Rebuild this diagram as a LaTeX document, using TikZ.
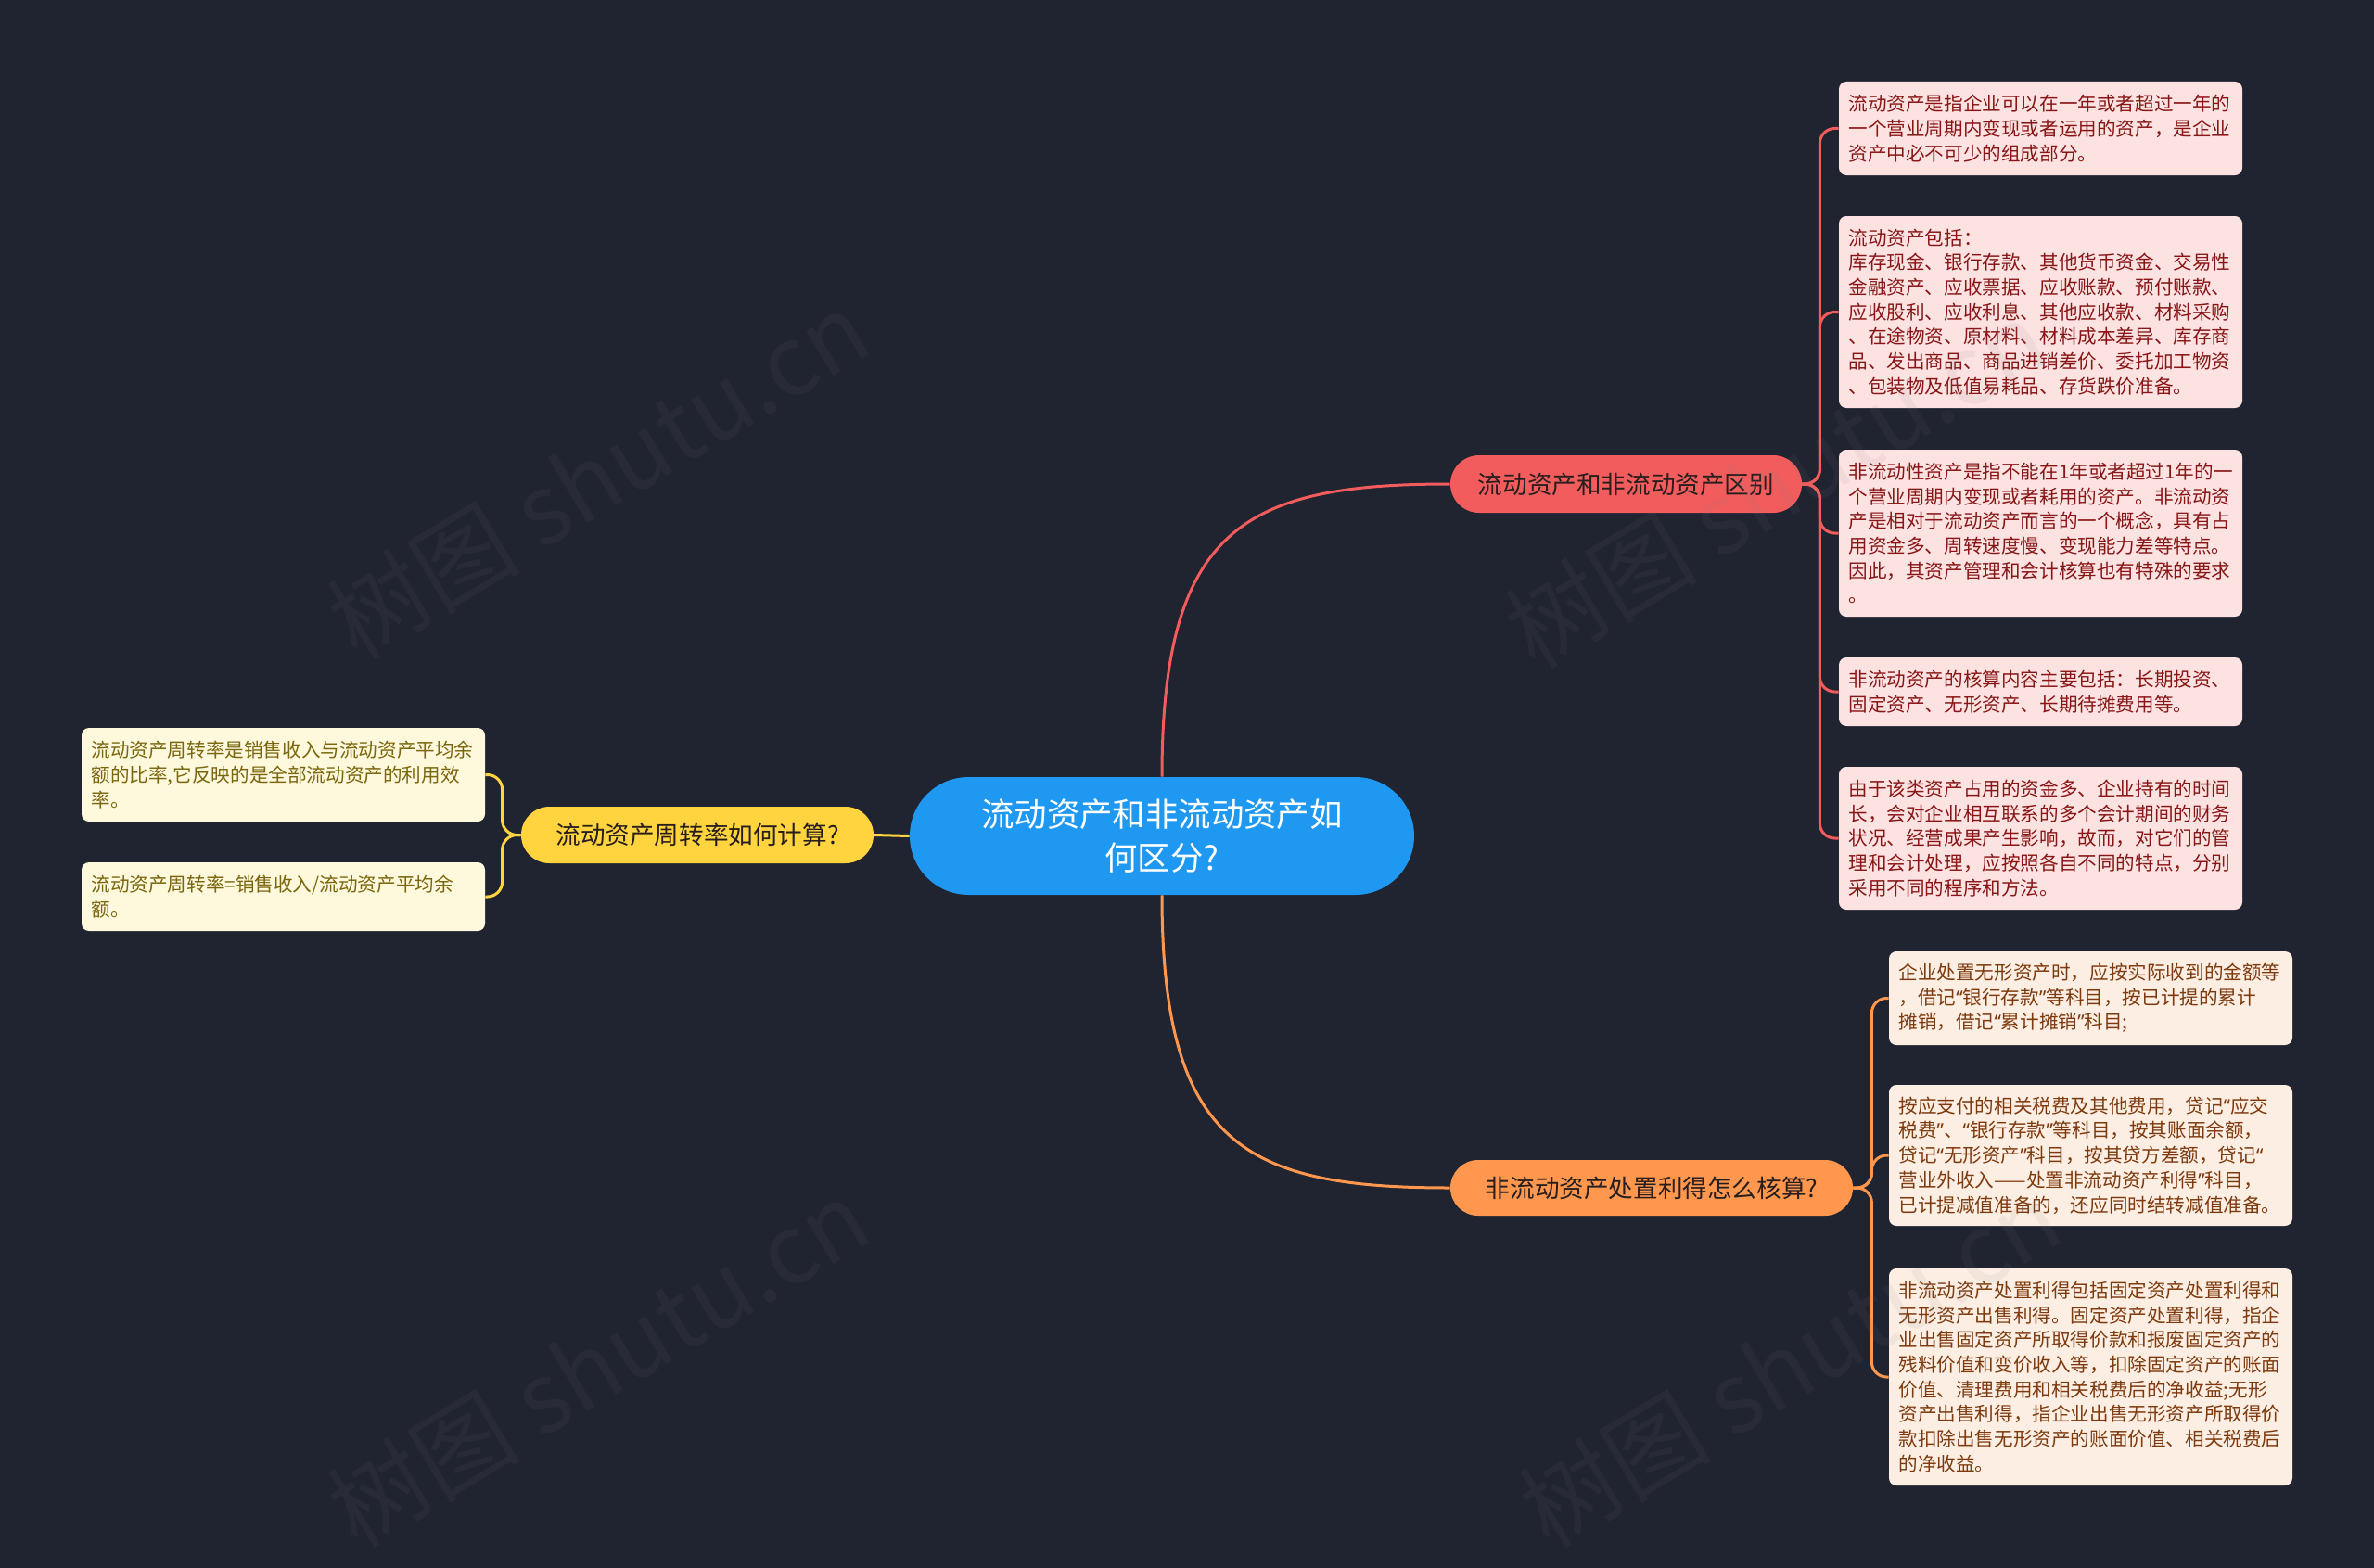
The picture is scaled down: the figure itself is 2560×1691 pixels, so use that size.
\documentclass[tikz,border=0pt]{standalone}
\usepackage{fontspec}
\setmainfont{Noto Sans CJK SC}
\newfontfamily\qfont{Noto Sans}
\newcommand\qo{{\qfont “}}
\newcommand\qc{{\qfont ”}}
\usetikzlibrary{calc}
\definecolor{bgc}{RGB}{32,35,48}
\definecolor{cblue}{RGB}{30,152,240}
\definecolor{cred}{RGB}{242,92,92}
\definecolor{corange}{RGB}{255,152,78}
\definecolor{cyellow}{RGB}{255,212,62}
\definecolor{lredfill}{RGB}{253,226,226}
\definecolor{lredtext}{RGB}{136,22,22}
\definecolor{lorafill}{RGB}{253,238,227}
\definecolor{loratext}{RGB}{125,58,14}
\definecolor{lyelfill}{RGB}{254,248,221}
\definecolor{lyeltext}{RGB}{122,102,12}
\definecolor{darktext}{RGB}{40,30,30}
\newcommand\lfnt{\fontsize{10.3}{13.35}\selectfont}
\newcommand\bfnt{\fontsize{13.3}{16}\selectfont}
\newcommand\cfnt{\fontsize{17.7}{23.5}\selectfont}
\tikzset{
  leafbase/.style={rounded corners=4pt, text width=207pt, inner xsep=5.25pt, inner ysep=3pt, align=left, font=\lfnt},
  leafR/.style={leafbase, fill=lredfill, text=lredtext},
  leafO/.style={leafbase, fill=lorafill, text=loratext},
  leafY/.style={leafbase, fill=lyelfill, text=lyeltext},
  branch/.style={inner sep=0pt, align=center, font=\bfnt, text=darktext},
  conn/.style={line width=1.5pt},
  wmark/.style={rotate=31, font=\fontsize{52}{60}\selectfont, text=gray, opacity=0.09}
}
\begin{document}
\begin{tikzpicture}[x=0.5pt,y=-0.5pt]
\useasboundingbox (0,0) rectangle (2560,1691);
\fill[bgc] (0,0) rectangle (2560,1691);

% central
\node[fill=cblue, text=white, rounded corners=31.75pt, minimum width=272pt, minimum height=63.5pt, inner sep=0pt, align=center, font=\cfnt] (center) at (1253,901.5) {流动资产和非流动资产如\\何区分?};

% branches
\node[branch, fill=cred, rounded corners=15.5pt, minimum width=189.5pt, minimum height=31pt] (red) at (1753.5,522) {流动资产和非流动资产区别};
\node[branch, fill=corange, rounded corners=15pt, minimum width=217pt, minimum height=30pt] (orange) at (1781,1281) {非流动资产处置利得怎么核算?};
\node[branch, fill=cyellow, rounded corners=15.25pt, minimum width=190pt, minimum height=30.5pt] (yellow) at (752,900.5) {流动资产周转率如何计算?};

% red leaves
\node[leafR, minimum height=50.5pt] (L1) at (2200.5,138.5) {流动资产是指企业可以在一年或者超过一年的\\一个营业周期内变现或者运用的资产，是企业\\资产中必不可少的组成部分。};
\node[leafR, minimum height=103.5pt] (L2) at (2200.5,336.5) {流动资产包括：\\库存现金、银行存款、其他货币资金、交易性\\金融资产、应收票据、应收账款、预付账款、\\应收股利、应收利息、其他应收款、材料采购\\、在途物资、原材料、材料成本差异、库存商\\品、发出商品、商品进销差价、委托加工物资\\、包装物及低值易耗品、存货跌价准备。};
\node[leafR, minimum height=90pt] (L3) at (2200.5,575) {非流动性资产是指不能在1年或者超过1年的一\\个营业周期内变现或者耗用的资产。非流动资\\产是相对于流动资产而言的一个概念，具有占\\用资金多、周转速度慢、变现能力差等特点。\\因此，其资产管理和会计核算也有特殊的要求\\。};
\node[leafR, minimum height=37pt] (L4) at (2200.5,746) {非流动资产的核算内容主要包括：长期投资、\\固定资产、无形资产、长期待摊费用等。};
\node[leafR, minimum height=77pt] (L5) at (2200.5,904) {由于该类资产占用的资金多、企业持有的时间\\长，会对企业相互联系的多个会计期间的财务\\状况、经营成果产生影响，故而，对它们的管\\理和会计处理，应按照各自不同的特点，分别\\采用不同的程序和方法。};

% orange leaves
\node[leafO, minimum height=50.5pt] (O1) at (2254.5,1076.5) {企业处置无形资产时，应按实际收到的金额等\\，借记\qo 银行存款\qc 等科目，按已计提的累计\\摊销，借记\qo 累计摊销\qc 科目;};
\node[leafO, minimum height=76pt] (O2) at (2254.5,1246) {按应支付的相关税费及其他费用，贷记\qo 应交\\税费\qc 、\qo 银行存款\qc 等科目，按其账面余额，\\贷记\qo 无形资产\qc 科目，按其贷方差额，贷记\qo\\营业外收入——处置非流动资产利得\qc 科目，\\已计提减值准备的，还应同时结转减值准备。};
\node[leafO, minimum height=117pt] (O3) at (2254.5,1485) {非流动资产处置利得包括固定资产处置利得和\\无形资产出售利得。固定资产处置利得，指企\\业出售固定资产所取得价款和报废固定资产的\\残料价值和变价收入等，扣除固定资产的账面\\价值、清理费用和相关税费后的净收益;无形\\资产出售利得，指企业出售无形资产所取得价\\款扣除出售无形资产的账面价值、相关税费后\\的净收益。};

% yellow leaves
\node[leafY, minimum height=50.5pt] (Y1) at (305.5,835.5) {流动资产周转率是销售收入与流动资产平均余\\额的比率,它反映的是全部流动资产的利用效\\率。};
\node[leafY, minimum height=37pt] (Y2) at (305.5,967) {流动资产周转率=销售收入/流动资产平均余\\额。};

% main connectors
\draw[conn, cred] (center.north) .. controls +(0,-270) and +(-220,0) .. (red.west);
\draw[conn, corange] (center.south) .. controls +(0,270) and +(-220,0) .. (orange.west);
\draw[conn, cyellow] (center.west) -- (yellow.east);

% brackets
\foreach \n in {L1,L2,L3,L4,L5}
  \draw[conn, cred, rounded corners=8pt] (red.east) -- ++(19,0) |- (\n.west);
\foreach \n in {O1,O2,O3}
  \draw[conn, corange, rounded corners=8pt] (orange.east) -- ++(20,0) |- (\n.west);
\foreach \n in {Y1,Y2}
  \draw[conn, cyellow, rounded corners=8pt] (yellow.west) -- ++(-20,0) |- (\n.east);

% watermarks
\node[wmark] (w1) at (645,512) {树图 shutu.cn};
\node[wmark] (w2) at (1915,522) {树图 shutu.cn};
\node[wmark] (w3) at (645,1470) {树图 shutu.cn};
\node[wmark] (w4) at (1930,1470) {树图 shutu.cn};
\end{tikzpicture}
\end{document}
